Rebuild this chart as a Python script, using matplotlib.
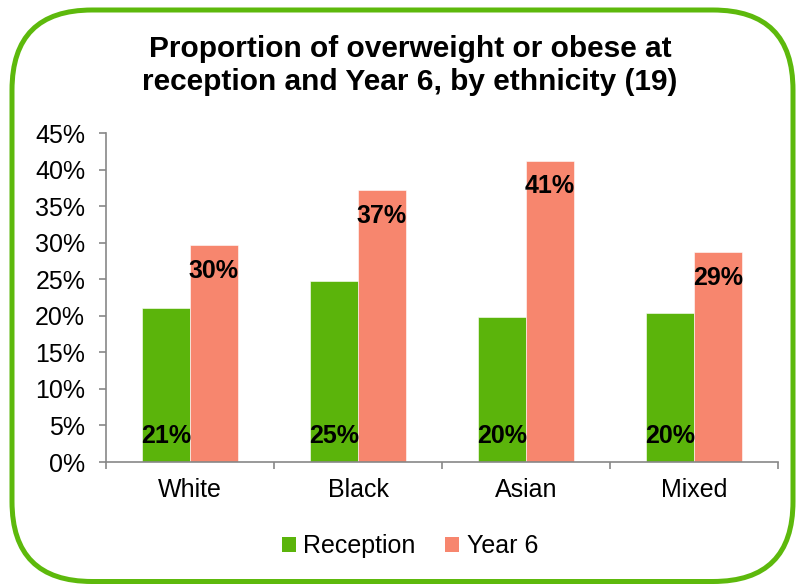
import numpy as np
import matplotlib
matplotlib.use('Agg')
from matplotlib import pyplot as plt
from matplotlib.patches import FancyBboxPatch, Patch

plt.rcParams['font.family'] = ['Liberation Sans', 'DejaVu Sans']

# Proportion overweight or obese, by ethnic group
groups = ['White', 'Black', 'Asian', 'Mixed']
reception = [0.210, 0.248, 0.199, 0.204]
year6 = [0.297, 0.372, 0.412, 0.287]
series_names = ['Reception', 'Year 6']
title = 'Proportion of overweight or obese at\nreception and Year 6, by ethnicity (19)'

green = '#5BB40B'
salmon = '#F7866E'
axis_grey = '#878787'

fig = plt.figure(figsize=(7.96, 5.86), dpi=100)

# Rounded green frame around the whole chart
frame = FancyBboxPatch((0.12, 0.045), 7.81, 5.715,
                       boxstyle='round,pad=0,rounding_size=0.8',
                       transform=fig.dpi_scale_trans, facecolor='none',
                       edgecolor='#5DB90C', linewidth=3.6, zorder=-1)
fig.patches.append(frame)

ax = fig.add_axes([0.1332, 0.2116, 0.8442, 0.5614])
ax.set_facecolor('none')

x = np.arange(len(groups))
w = 0.283
bars_r = ax.bar(x - w / 2, reception, w, color=green, edgecolor='#FFFFFF', linewidth=0.4)
bars_y = ax.bar(x + w / 2, year6, w, color=salmon, edgecolor='#FFFFFF', linewidth=0.4)

# Value labels: reception at the base, year 6 just inside the top
for b, v in zip(bars_r, reception):
    ax.annotate('{:.0%}'.format(v), (b.get_x() + b.get_width() / 2, 0),
                xytext=(0, 13.5), textcoords='offset points',
                ha='center', va='baseline', fontsize=18, fontweight='bold')
for b, v in zip(bars_y, year6):
    ax.annotate('{:.0%}'.format(v), (b.get_x() + b.get_width() / 2, v),
                xytext=(0, -23.5), textcoords='offset points',
                ha='center', va='baseline', fontsize=18, fontweight='bold')

ax.set_xlim(-0.5, len(groups) - 0.5)
ax.set_ylim(0, 0.45)
ax.set_yticks(np.arange(0, 0.451, 0.05))
ax.set_yticklabels(['{:.0f}%'.format(t * 100) for t in np.arange(0, 0.451, 0.05)])

# Category boundaries get the tick marks, names sit on the centres
ax.set_xticks(np.arange(-0.5, len(groups), 1.0))
ax.set_xticklabels([])
ax.set_xticks(x, minor=True)
ax.set_xticklabels(groups, minor=True)
ax.tick_params(axis='x', which='major', length=5, color=axis_grey, width=1.2)
ax.tick_params(axis='x', which='minor', length=0, pad=11.5, labelsize=18)
ax.tick_params(axis='y', length=5, color=axis_grey, width=1.2, pad=10, labelsize=18)

for side in ['top', 'right']:
    ax.spines[side].set_visible(False)
for side in ['left', 'bottom']:
    ax.spines[side].set_color(axis_grey)
    ax.spines[side].set_linewidth(1.2)

fig.text(0.515, 0.888, title, ha='center', va='center', fontsize=21.5,
         fontweight='bold', linespacing=1.22)

handles = [Patch(facecolor=green), Patch(facecolor=salmon)]
fig.legend(handles, series_names, loc='center', bbox_to_anchor=(0.515, 0.068),
           ncol=2, frameon=False, fontsize=18, handlelength=0.55, handleheight=0.55,
           handletextpad=0.3, columnspacing=1.2)

fig.savefig('out.png', dpi=100)
